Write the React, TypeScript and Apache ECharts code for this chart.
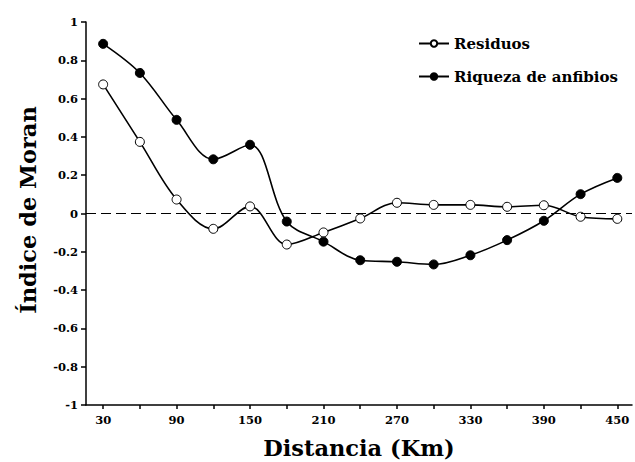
import React, { useEffect, useRef } from "react";
import * as echarts from "echarts";

const distances = [30, 60, 90, 120, 150, 180, 210, 240, 270, 300, 330, 360, 390, 420, 450];
const residuos = [0.674, 0.374, 0.073, -0.08, 0.037, -0.162, -0.099, -0.026, 0.056, 0.045, 0.045, 0.035, 0.043, -0.017, -0.028];
const riqueza = [0.886, 0.734, 0.489, 0.283, 0.359, -0.042, -0.147, -0.244, -0.252, -0.266, -0.218, -0.139, -0.038, 0.101, 0.186];
const xLabelValues = [30, 90, 150, 210, 270, 330, 390, 450];
const xTickValues = distances;

const FONT = "DejaVu Serif";

export default function App() {
  const ref = useRef<HTMLDivElement>(null);
  useEffect(() => {
    if (!ref.current) return;
    const chart = echarts.init(ref.current, null, { renderer: "svg" });
    const pair = (ys: number[]) => distances.map((d, i) => [d, ys[i]]);
    chart.setOption({
      animation: false,
      backgroundColor: "#fff",
      grid: { left: 86, right: 3, top: 22, bottom: 57, outerBoundsMode: "none", containLabel: false },
      legend: {
        orient: "vertical",
        left: 418,
        top: 36,
        padding: 0,
        itemGap: 18,
        itemWidth: 30,
        itemHeight: 8,
        textStyle: { fontFamily: FONT, fontWeight: "bold", fontSize: 15, color: "#000" },
        data: ["Residuos", "Riqueza de anfibios"],
      },
      xAxis: {
        type: "value",
        min: 16,
        max: 462,
        name: "Distancia (Km)",
        nameLocation: "middle",
        nameGap: 31,
        nameTextStyle: { fontFamily: FONT, fontWeight: "bold", fontSize: 22.5, color: "#000" },
        axisLine: { onZero: false, lineStyle: { color: "#000", width: 1.5 } },
        axisTick: { show: true, customValues: xTickValues, length: 4, lineStyle: { color: "#000", width: 1.5 } },
        axisLabel: {
          customValues: xLabelValues,
          fontFamily: FONT,
          fontWeight: "bold",
          fontSize: 11.5,
          color: "#000",
          margin: 9,
        },
        splitLine: { show: false },
      },
      yAxis: {
        type: "value",
        min: -1,
        max: 1,
        interval: 0.2,
        axisLine: { show: true, lineStyle: { color: "#000", width: 1.5 } },
        axisTick: { show: true, length: 5, lineStyle: { color: "#000", width: 1.5 } },
        axisLabel: {
          fontFamily: FONT,
          fontWeight: "bold",
          fontSize: 11.5,
          color: "#000",
          margin: 8,
          formatter: (v: number) => {
            const r = Math.round(v * 10) / 10;
            if (r === 0) return "0";
            if (r === 1) return "1";
            if (r === -1) return "-1";
            return r.toFixed(1);
          },
        },
        splitLine: { show: false },
      },
      graphic: [
        {
          type: "text",
          x: 28,
          y: 210,
          rotation: Math.PI / 2,
          style: {
            text: "Índice de Moran",
            fontFamily: FONT,
            fontWeight: "bold",
            fontSize: 22.5,
            fill: "#000",
            align: "center",
            verticalAlign: "middle",
          },
        },
      ],
      series: [
        {
          name: "Residuos",
          type: "line",
          smooth: 0.35,
          data: pair(residuos),
          symbol: "circle",
          symbolSize: 9,
          lineStyle: { color: "#000", width: 1.6 },
          itemStyle: { color: "#fff", borderColor: "#000", borderWidth: 1 },
          z: 3,
          markLine: {
            silent: true,
            symbol: "none",
            label: { show: false },
            lineStyle: { color: "#000", type: [10, 5], width: 1 },
            data: [{ yAxis: 0 }],
          },
        },
        {
          name: "Riqueza de anfibios",
          type: "line",
          smooth: 0.35,
          data: pair(riqueza),
          symbol: "circle",
          symbolSize: 9,
          lineStyle: { color: "#000", width: 1.6 },
          itemStyle: { color: "#000", borderColor: "#000", borderWidth: 1 },
          z: 3,
        },
      ],
    });
    return () => chart.dispose();
  }, []);
  return <div ref={ref} style={{ width: 635, height: 462, position: "absolute", left: 0, top: 0 }} />;
}
